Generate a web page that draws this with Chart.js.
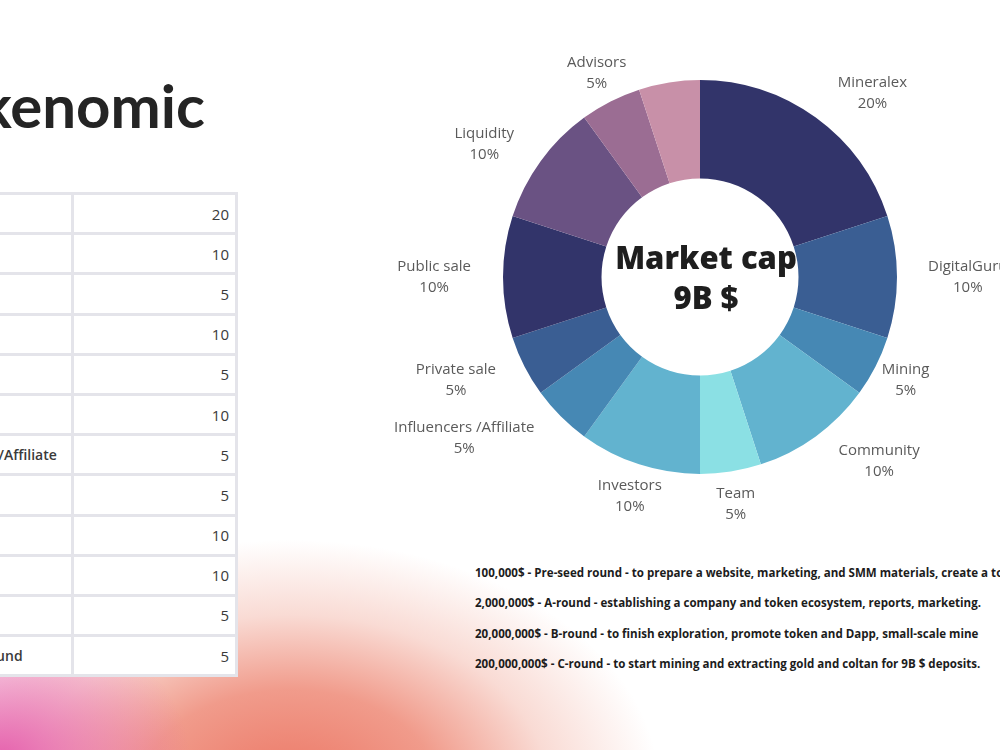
<!DOCTYPE html>
<html>
<head>
<meta charset="utf-8">
<script src="https://cdn.jsdelivr.net/npm/chart.js@4.4.1/dist/chart.umd.min.js"></script>
<style>
  html, body { margin: 0; padding: 0; }
  body {
    width: 1000px; height: 750px; overflow: hidden; position: relative;
    background: #ffffff; font-family: "Open Sans", sans-serif;
  }
  #glow {
    position: absolute; left: 0; top: 0; width: 1000px; height: 750px;
    background:
      radial-gradient(ellipse 190px 150px at 0px 760px, rgba(228,88,170,0.95) 0%, rgba(228,88,170,0) 100%),
      radial-gradient(ellipse 370px 250px at 290px 790px, rgba(236,118,100,1) 0%, rgba(237,130,110,0.8) 40%, rgba(242,175,160,0.45) 70%, rgba(250,225,220,0) 100%);
  }
  #title {
    position: absolute; right: 795px; top: 75px; white-space: nowrap;
    font-family: Lato, sans-serif; font-weight: 700; font-size: 60px; line-height: 60px;
    color: #242424;
  }
  #tbl {
    position: absolute; top: 192px; table-layout: fixed;
    border-collapse: separate; border-spacing: 3px; background: #e4e4ea;
    font-size: 15px; color: #3a3a3a;
  }
  #tbl td { background: #ffffff; height: 37.2px; padding: 0; box-sizing: border-box; }
  #tbl td.name { font-weight: 600; font-size: 14px; padding-left: 10px; white-space: nowrap; overflow: hidden; }
  #tbl td.val { width: 161px; text-align: right; padding-right: 6px; }
  #chartBox { position: absolute; left: 380px; top: 0px; width: 620px; height: 550px; }
  #notes {
    position: absolute; left: 475px; top: 563px; white-space: nowrap;
    font-weight: 700; font-size: 12.5px; color: #1c1c1c; transform-origin: 0 0;
  }
  #notes div { height: 30.3px; line-height: 20px; }
</style>
</head>
<body>
<div id="glow"></div>
<div id="title">Tokenomic</div>
<table id="tbl"></table>
<div id="chartBox"><canvas id="tokenChart" width="620" height="550"></canvas></div>
<div id="notes"></div>
<script>
// allocation, clockwise from the top
const categories = ['Mineralex', 'DigitalGuru', 'Mining', 'Community', 'Team', 'Investors',
  'Influencers /Affiliate', 'Private sale', 'Public sale', 'Liquidity', 'Advisors', 'Pre-seed round'];
const shares = [20, 10, 5, 10, 5, 10, 5, 5, 10, 10, 5, 5];
const sliceColors = ['#32346a', '#3a5e93', '#4688b4', '#62b3cf', '#8be0e4', '#62b3cf',
  '#4688b4', '#3a5e93', '#32346a', '#6a5283', '#9b6d93', '#c890a8'];
const unlabeled = ['Pre-seed round'];
const centerLines = ['Market cap', '9B $'];
const rounds = [
  '100,000$ - Pre-seed round - to prepare a website, marketing, and SMM materials, create a token',
  '2,000,000$ - A-round - establishing a company and token ecosystem, reports, marketing.',
  '20,000,000$ - B-round - to finish exploration, promote token and Dapp, small-scale mine',
  '200,000,000$ - C-round - to start mining and extracting gold and coltan for 9B $ deposits.'
];

// label layout: distance past the ring (px) and turn off the slice middle (deg)
const labelGap = [28, 31, 10, 30, 12, 11, 37, 31, 32, 29, 9, 0];
const labelTurn = [5.6, 0, 0, -6, 0, -1, 5.8, 2.6, 0, -3.5, 1, 0];

// table on the left, mostly cut off by the page edge
const tbl = document.getElementById('tbl');
const probe = document.createElement('canvas').getContext('2d');
probe.font = '600 14px "Open Sans"';
const longest = Math.max.apply(null, categories.map(function (c) { return probe.measureText(c).width; }));
const nameW = Math.round(longest + 24);
categories.forEach(function (name, i) {
  const tr = document.createElement('tr');
  const a = document.createElement('td');
  a.className = 'name';
  a.style.width = nameW + 'px';
  a.textContent = name;
  const b = document.createElement('td');
  b.className = 'val';
  b.textContent = shares[i];
  tr.appendChild(a);
  tr.appendChild(b);
  tbl.appendChild(tr);
});
tbl.style.width = (nameW + 161 + 9) + 'px';
tbl.style.left = (71 - nameW - 3) + 'px';

// funding rounds
const notes = document.getElementById('notes');
rounds.forEach(function (r) {
  const d = document.createElement('div');
  d.textContent = r;
  notes.appendChild(d);
});
probe.font = '700 12.5px "Open Sans"';
const squeeze = 506 / probe.measureText(rounds[1]).width;
notes.style.transform = 'scaleX(' + squeeze + ')';

const sliceLabels = {
  id: 'sliceLabels',
  afterDatasetsDraw(chart) {
    const c = chart.ctx;
    const meta = chart.getDatasetMeta(0);
    c.save();
    c.font = '15px "Open Sans"';
    c.fillStyle = '#5a5a5a';
    c.textAlign = 'center';
    c.textBaseline = 'middle';
    meta.data.forEach(function (arc, i) {
      if (unlabeled.indexOf(categories[i]) >= 0) return;
      const p = arc.getProps(['x', 'y', 'startAngle', 'endAngle', 'outerRadius'], true);
      const mid = (p.startAngle + p.endAngle) / 2 + labelTurn[i] * Math.PI / 180;
      const dx = Math.cos(mid), dy = Math.sin(mid);
      const lines = [categories[i], shares[i] + '%'];
      const w = Math.max(c.measureText(lines[0]).width, c.measureText(lines[1]).width);
      const hw = w / 2, hh = 21;
      const r = p.outerRadius + labelGap[i];
      const cx = p.x + dx * r + hw * dx, cy = p.y + dy * r + hh * dy;
      c.fillText(lines[0], cx, cy - 10.5);
      c.fillText(lines[1], cx, cy + 10.5);
    });
    const a0 = meta.data[0];
    c.font = '800 31px "Open Sans"';
    c.fillStyle = '#1e1e1e';
    c.fillText(centerLines[0], a0.x + 6, a0.y - 17);
    c.fillText(centerLines[1], a0.x + 6, a0.y + 23);
    c.restore();
  }
};

document.fonts.load('15px "Open Sans"').then(function () {
  new Chart(document.getElementById('tokenChart'), {
    type: 'doughnut',
    data: {
      labels: categories,
      datasets: [{
        data: shares,
        backgroundColor: sliceColors,
        borderWidth: 0
      }]
    },
    options: {
      responsive: false,
      animation: false,
      cutout: '50%',
      layout: { padding: { left: 123, right: 103, top: 80, bottom: 76 } },
      plugins: { legend: { display: false }, tooltip: { enabled: false } }
    },
    plugins: [sliceLabels]
  });
});
</script>
</body>
</html>
